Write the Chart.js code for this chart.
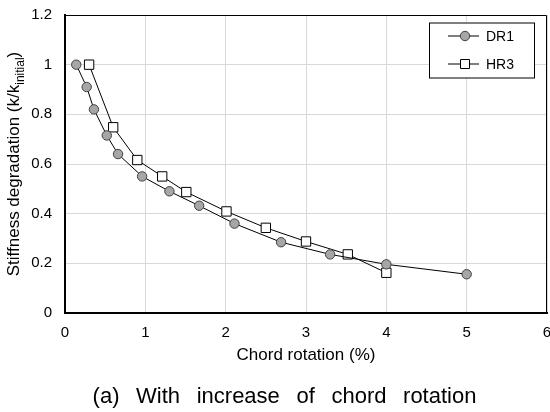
<!DOCTYPE html>
<html>
<head>
<meta charset="utf-8">
<script src="https://cdn.jsdelivr.net/npm/chart.js@4.4.1/dist/chart.umd.min.js"></script>
<style>
  html, body { margin: 0; padding: 0; background: #fff; }
  canvas { display: block; }
</style>
</head>
<body>
<canvas id="stiffChart" width="550" height="412"></canvas>
<script>
// DR1 specimen
const dr1Rotation = [0.14, 0.27, 0.36, 0.52, 0.66, 0.96, 1.30, 1.67, 2.11, 2.69, 3.30, 4.00, 5.00];
const dr1Stiffness = [1.00, 0.91, 0.82, 0.715, 0.64, 0.55, 0.49, 0.432, 0.36, 0.285, 0.236, 0.196, 0.156];
// HR3 specimen
const hr3Rotation = [0.30, 0.60, 0.90, 1.21, 1.51, 2.01, 2.50, 3.00, 3.52, 4.00];
const hr3Stiffness = [1.00, 0.748, 0.616, 0.55, 0.487, 0.409, 0.343, 0.288, 0.236, 0.162];

const xTicks = [0, 1, 2, 3, 4, 5, 6];
const yTicks = [0, 0.2, 0.4, 0.6, 0.8, 1, 1.2];
const seriesNames = ['DR1', 'HR3'];
const caption = '(a) With increase of chord rotation';

const FONT = "'Liberation Sans', Arial, sans-serif";

function toPoints(xs, ys) {
    return xs.map((x, i) => ({ x: x, y: ys[i] }));
}

function noScalePadding(scale) {
    scale.paddingLeft = 0;
    scale.paddingRight = 0;
    scale.paddingTop = 0;
    scale.paddingBottom = 0;
}

// top/right frame, legend box, y title with subscript, caption
const chartDecor = {
    id: 'chartDecor',
    beforeDatasetsDraw(chart) {
        const { ctx, chartArea: a } = chart;
        ctx.save();
        ctx.strokeStyle = '#000';
        ctx.lineWidth = 1;
        ctx.beginPath();
        ctx.moveTo(a.left, a.top + 0.5);
        ctx.lineTo(a.right - 0.5, a.top + 0.5);
        ctx.lineTo(a.right - 0.5, a.bottom);
        ctx.stroke();
        ctx.restore();
    },
    afterDraw(chart) {
        const { ctx, chartArea: a } = chart;
        ctx.save();

        // legend
        const bx = a.right - 118, by = a.top + 7.5, bw = 105, bh = 55;
        ctx.fillStyle = '#fff';
        ctx.fillRect(bx, by, bw, bh);
        ctx.strokeStyle = '#000';
        ctx.lineWidth = 1;
        ctx.strokeRect(bx + 0.5, by + 0.5, bw, bh);

        chart.data.datasets.forEach((ds, i) => {
            const cy = by + 13.5 + i * 28;
            ctx.strokeStyle = '#000';
            ctx.lineWidth = 1;
            ctx.beginPath();
            ctx.moveTo(bx + 19, cy);
            ctx.lineTo(bx + 50, cy);
            ctx.stroke();
            ctx.fillStyle = ds.pointBackgroundColor;
            ctx.strokeStyle = ds.pointBorderColor;
            ctx.beginPath();
            if (ds.pointStyle === 'rect') {
                ctx.rect(bx + 31.5, cy - 4.5, 9, 9);
            } else {
                ctx.arc(bx + 36, cy, 4.7, 0, Math.PI * 2);
            }
            ctx.fill();
            ctx.stroke();
            ctx.fillStyle = '#000';
            ctx.font = '14px ' + FONT;
            ctx.textBaseline = 'middle';
            ctx.textAlign = 'left';
            ctx.fillText(ds.label, bx + 57, cy + 1);
        });

        // caption under the chart
        ctx.fillStyle = '#000';
        ctx.font = '22px ' + FONT;
        ctx.textAlign = 'center';
        ctx.textBaseline = 'alphabetic';
        let capText = caption;
        if ('wordSpacing' in ctx) {
            ctx.wordSpacing = '10.5px';
        } else {
            capText = caption.split(' ').join('   ');
        }
        ctx.fillText(capText, chart.width / 2 + 9.5, 403);
        if ('wordSpacing' in ctx) ctx.wordSpacing = '0px';

        // y axis title
        const main = 'Stiffness degradation (k/k';
        const sub = 'initial';
        const tail = ')';
        ctx.translate(19, (a.top + a.bottom) / 2);
        ctx.rotate(-Math.PI / 2);
        ctx.textBaseline = 'alphabetic';
        ctx.textAlign = 'left';
        ctx.font = '17px ' + FONT;
        const w1 = ctx.measureText(main).width;
        const w3 = ctx.measureText(tail).width;
        ctx.font = '12px ' + FONT;
        const w2 = ctx.measureText(sub).width;
        let x = -(w1 + w2 + w3) / 2;
        ctx.font = '17px ' + FONT;
        ctx.fillText(main, x, 0);
        x += w1;
        ctx.font = '12px ' + FONT;
        ctx.fillText(sub, x, 5);
        x += w2;
        ctx.font = '17px ' + FONT;
        ctx.fillText(tail, x, 0);

        ctx.restore();
    }
};

new Chart(document.getElementById('stiffChart'), {
    type: 'scatter',
    data: {
        datasets: [
            {
                label: seriesNames[0],
                data: toPoints(dr1Rotation, dr1Stiffness),
                showLine: true,
                borderColor: '#000',
                borderWidth: 1,
                pointStyle: 'circle',
                pointRadius: 4.7,
                pointHoverRadius: 4.7,
                pointBackgroundColor: '#a6a6a6',
                pointBorderColor: '#404040',
                pointBorderWidth: 1
            },
            {
                label: seriesNames[1],
                data: toPoints(hr3Rotation, hr3Stiffness),
                showLine: true,
                borderColor: '#000',
                borderWidth: 1,
                pointStyle: 'rect',
                pointRadius: 6.6,
                pointHoverRadius: 6.6,
                pointBackgroundColor: '#fff',
                pointBorderColor: '#000',
                pointBorderWidth: 1
            }
        ]
    },
    options: {
        responsive: false,
        animation: false,
        layout: {
            autoPadding: false,
            padding: { top: 15, right: 3, left: 0, bottom: 0 }
        },
        plugins: {
            legend: { display: false },
            tooltip: { enabled: false }
        },
        scales: {
            x: {
                type: 'linear',
                min: 0,
                max: 6,
                afterBuildTicks(scale) {
                    scale.ticks = xTicks.map(v => ({ value: v }));
                },
                afterFit(scale) {
                    scale.height = 99;
                    noScalePadding(scale);
                },
                grid: { color: '#d9d9d9', drawTicks: false },
                border: { color: '#000', width: 2 },
                ticks: {
                    color: '#000',
                    padding: 11,
                    maxRotation: 0,
                    font: { family: FONT, size: 15 }
                },
                title: {
                    display: true,
                    text: 'Chord rotation (%)',
                    color: '#000',
                    font: { family: FONT, size: 17 },
                    padding: { top: 0, bottom: 46 }
                }
            },
            y: {
                type: 'linear',
                min: 0,
                max: 1.2,
                afterBuildTicks(scale) {
                    scale.ticks = yTicks.map(v => ({ value: v }));
                },
                afterFit(scale) {
                    scale.width = 65;
                    noScalePadding(scale);
                },
                grid: { color: '#d9d9d9', drawTicks: false },
                border: { color: '#000', width: 2 },
                ticks: {
                    color: '#000',
                    padding: 13,
                    font: { family: FONT, size: 15 },
                    callback: v => String(v)
                }
            }
        }
    },
    plugins: [chartDecor]
});
</script>
</body>
</html>
